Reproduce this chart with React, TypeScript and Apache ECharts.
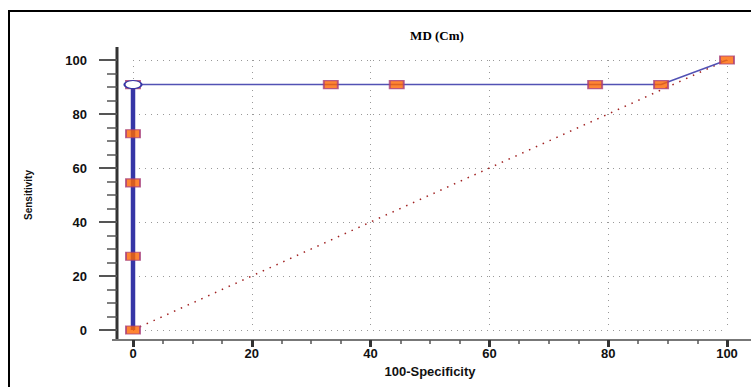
import React, { useEffect, useRef } from "react";
import * as echarts from "echarts";

const rocX = [0, 0, 0, 0, 0, 33.3, 44.4, 77.8, 88.9, 100];
const rocY = [0, 27.3, 54.5, 72.7, 90.9, 90.9, 90.9, 90.9, 90.9, 100];
const diagX = [0, 100];
const diagY = [0, 100];
const cutoffPoint = [0, 90.9];
const titleText = "MD (Cm)";
const xName = "100-Specificity";
const yName = "Sensitivity";

export default function App() {
  const ref = useRef<HTMLDivElement>(null);
  useEffect(() => {
    if (!ref.current) return;
    const chart = echarts.init(ref.current, undefined, { renderer: "svg" });
    const rocPts = rocX.map((x, i) => [x, rocY[i]]);
    const vertPts = rocPts.filter((p) => p[0] === 0);
    const horizPts = rocPts.filter((p, i) => i >= vertPts.length - 1);
    const labelFont = {
      fontFamily: "Liberation Sans",
      fontWeight: "bold" as const,
      fontSize: 13,
      color: "#111",
    };
    chart.setOption({
      animation: false,
      backgroundColor: "#fff",
      title: {
        text: titleText,
        left: 432,
        top: 24,
        textAlign: "center",
        textStyle: {
          fontFamily: "Liberation Serif",
          fontWeight: "bold",
          fontSize: 13,
          color: "#000",
        },
      },
      grid: { left: 133, right: 24, top: 60, bottom: 57 },
      xAxis: {
        type: "value",
        min: 0,
        max: 100,
        interval: 20,
        offset: 10,
        name: xName,
        nameLocation: "middle",
        nameGap: 25,
        nameTextStyle: labelFont,
        axisLine: { show: false, onZero: false },
        axisTick: { show: true, length: 7, lineStyle: { color: "#333", width: 3 } },
        minorTick: { show: true, splitNumber: 4, length: 4, lineStyle: { color: "#555", width: 1.5 } },
        axisLabel: { ...labelFont, margin: 7 },
        splitLine: { show: true, lineStyle: { color: "#999", type: [1, 5], width: 1 } },
      },
      yAxis: {
        type: "value",
        min: 0,
        max: 100,
        interval: 20,
        offset: 16,
        name: yName,
        nameLocation: "middle",
        nameGap: 84,
        nameTextStyle: { ...labelFont, fontSize: 10 },
        axisLine: { show: false, onZero: false },
        axisTick: { show: true, length: 18, lineStyle: { color: "#555", width: 2 } },
        minorTick: { show: true, splitNumber: 4, length: 10, lineStyle: { color: "#555", width: 1.5 } },
        axisLabel: { ...labelFont, margin: 30 },
        splitLine: { show: true, lineStyle: { color: "#999", type: [1, 5], width: 1 } },
      },
      graphic: [
        { type: "line", shape: { x1: 8, y1: 11, x2: 751, y2: 11 }, style: { stroke: "#000", lineWidth: 2 } },
        { type: "line", shape: { x1: 9, y1: 11, x2: 9, y2: 387 }, style: { stroke: "#000", lineWidth: 2 } },
        { type: "line", shape: { x1: 117, y1: 47, x2: 117, y2: 341 }, style: { stroke: "#333", lineWidth: 3 } },
        { type: "line", shape: { x1: 112, y1: 340, x2: 751, y2: 340 }, style: { stroke: "#777", lineWidth: 2 } },
      ],
      series: [
        {
          type: "line",
          data: diagX.map((x, i) => [x, diagY[i]]),
          symbol: "none",
          lineStyle: { color: "#A02020", width: 1.5, type: [1.5, 6] },
          z: 2,
        },
        {
          type: "line",
          data: vertPts,
          symbol: "none",
          lineStyle: { color: "#3636A6", width: 4.5 },
          z: 3,
        },
        {
          type: "line",
          data: horizPts,
          symbol: "none",
          lineStyle: { color: "#5252B4", width: 1.5 },
          z: 3,
        },
        {
          type: "scatter",
          data: rocPts,
          symbol: "rect",
          symbolSize: [14, 8],
          itemStyle: { color: "#FF6600", borderColor: "#A8407A", borderWidth: 1.5 },
          z: 4,
        },
        {
          type: "scatter",
          data: [cutoffPoint],
          symbol: "circle",
          symbolSize: [17, 8],
          itemStyle: { color: "#fff", opacity: 1, borderColor: "#3636A6", borderWidth: 1.5 },
          z: 5,
        },
      ],
    });
    return () => chart.dispose();
  }, []);
  return (
    <div
      ref={ref}
      style={{ position: "absolute", left: 0, top: 0, width: 751, height: 387 }}
    />
  );
}
